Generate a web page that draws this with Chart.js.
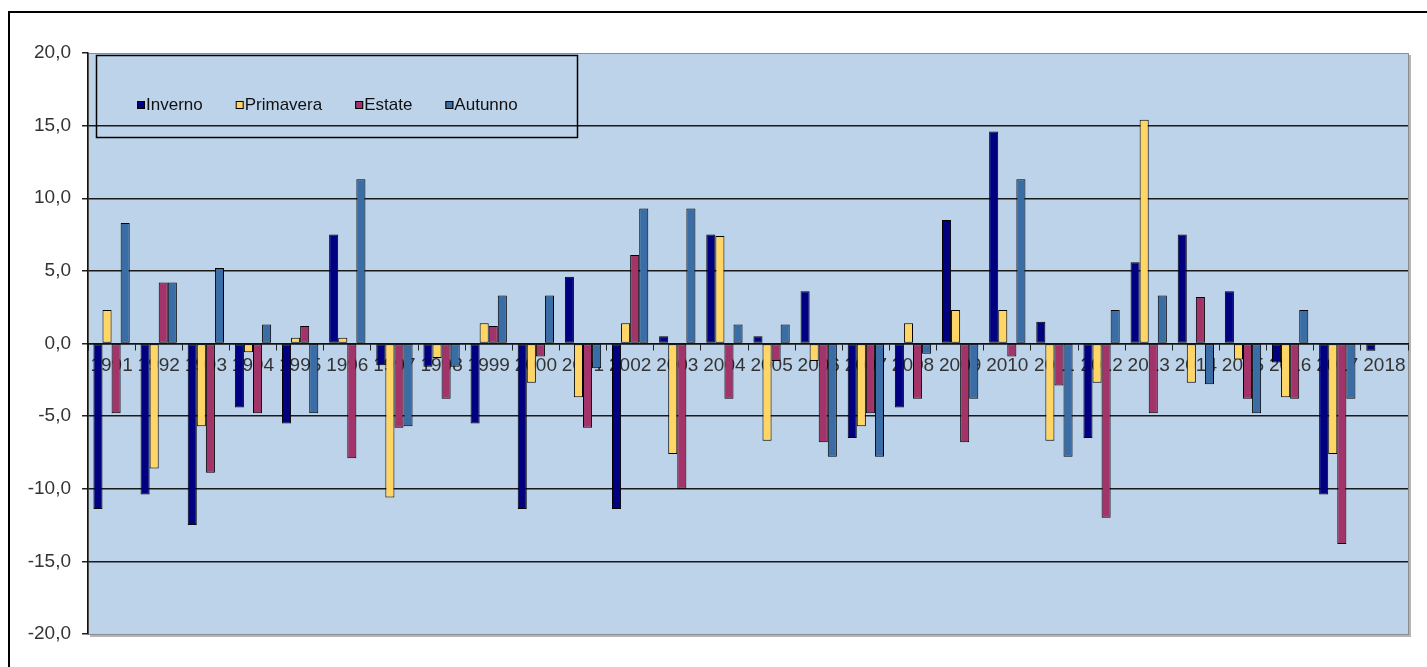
<!DOCTYPE html>
<html>
<head>
<meta charset="utf-8">
<script src="https://cdn.jsdelivr.net/npm/chart.js@4.4.1/dist/chart.umd.min.js"></script>
<style>
  html, body { margin: 0; padding: 0; background: #ffffff; }
  #wrap { position: relative; width: 1427px; height: 667px; }
</style>
</head>
<body>
<div id="wrap"><canvas id="c" width="1427" height="667"></canvas></div>
<script>
const years = ['1991','1992','1993','1994','1995','1996','1997','1998','1999','2000','2001','2002','2003','2004','2005','2006','2007','2008','2009','2010','2011','2012','2013','2014','2015','2016','2017','2018'];
const inverno   = [-11.4,-10.4,-12.5,-4.4,-5.5,7.5,-1.5,-1.6,-5.5,-11.4,4.6,-11.4,0.5,7.5,0.5,3.6,-6.5,-4.4,8.5,14.6,1.5,-6.5,5.6,7.5,3.6,-1.3,-10.4,-0.5];
const primavera = [2.3,-8.6,-5.7,-0.6,0.4,0.4,-10.6,-1.0,1.4,-2.7,-3.7,1.4,-7.6,7.4,-6.7,-1.2,-5.7,1.4,2.3,2.3,-6.7,-2.7,15.4,-2.7,-1.1,-3.7,-7.6,null];
const estate    = [-4.8,4.2,-8.9,-4.8,1.2,-7.9,-5.8,-3.8,1.2,-0.9,-5.8,6.1,-10.0,-3.8,-1.2,-6.8,-4.8,-3.8,-6.8,-0.9,-2.9,-12.0,-4.8,3.2,-3.8,-3.8,-13.8,null];
const autunno   = [8.3,4.2,5.2,1.3,-4.8,11.3,-5.7,-1.6,3.3,3.3,-1.7,9.3,9.3,1.3,1.3,-7.8,-7.8,-0.7,-3.8,11.3,-7.8,2.3,3.3,-2.8,-4.8,2.3,-3.8,null];
const seriesNames = ['Inverno','Primavera','Estate','Autunno'];
const seriesColors = ['#000080','#FFD566','#A3346A','#3A6DA5'];
const yTicks = [-20,-15,-10,-5,0,5,10,15,20];

const FONT = "'Liberation Sans', Arial, sans-serif";
const PLOT_BG = '#BDD3EA';

const bgPlugin = {
  id: 'bgPlugin',
  beforeDraw(chart) {
    const {ctx, chartArea: a} = chart;
    ctx.save();
    // outer frame
    ctx.strokeStyle = '#000';
    ctx.lineWidth = 2;
    ctx.beginPath();
    ctx.moveTo(9, 700);
    ctx.lineTo(9, 12);
    ctx.lineTo(1440, 12);
    ctx.stroke();
    // plot background
    ctx.fillStyle = PLOT_BG;
    ctx.fillRect(a.left, a.top, a.right - a.left, a.bottom - a.top);
    // shadow / border
    ctx.strokeStyle = '#8c8c8c';
    ctx.lineWidth = 1;
    ctx.strokeRect(a.left + 0.5, a.top + 0.5, a.right - a.left, a.bottom - a.top);
    ctx.strokeStyle = '#b4b4b4';
    ctx.lineWidth = 2;
    ctx.beginPath();
    ctx.moveTo(a.right + 2, a.top + 2);
    ctx.lineTo(a.right + 2, a.bottom + 2);
    ctx.lineTo(a.left + 2, a.bottom + 2);
    ctx.stroke();
    ctx.restore();
  }
};

const legendPlugin = {
  id: 'boxLegend',
  afterDraw(chart) {
    const {ctx, chartArea: a} = chart;
    ctx.save();
    const bx = a.left + 8, by = a.top + 2, bw = 481, bh = 82;
    ctx.strokeStyle = '#000';
    ctx.lineWidth = 1.5;
    ctx.strokeRect(bx + 0.5, by + 0.5, bw, bh);
    ctx.font = '17px ' + FONT;
    ctx.textBaseline = 'middle';
    ctx.textAlign = 'left';
    let x = a.left + 49;
    const cy = a.top + 52;
    chart.data.datasets.forEach(ds => {
      ctx.fillStyle = ds.backgroundColor;
      ctx.fillRect(x, cy - 4, 8, 8);
      ctx.strokeStyle = '#000';
      ctx.lineWidth = 1;
      ctx.strokeRect(x + 0.5, cy - 3.5, 7, 7);
      ctx.fillStyle = '#111';
      ctx.fillText(ds.label, x + 9, cy);
      x += 9 + ctx.measureText(ds.label).width + 33;
    });
    ctx.restore();
  }
};

const datasets = [inverno, primavera, estate, autunno].map((d, i) => ({
  label: seriesNames[i],
  data: d,
  backgroundColor: seriesColors[i],
  borderColor: '#000',
  borderWidth: 1,
  borderSkipped: false,
  categoryPercentage: 0.77,
  barPercentage: 1.0
}));

new Chart(document.getElementById('c'), {
  type: 'bar',
  data: { labels: years, datasets },
  options: {
    responsive: false,
    animation: false,
    layout: { padding: { left: 0, top: 53, right: 19, bottom: 33 } },
    plugins: { legend: { display: false }, tooltip: { enabled: false } },
    scales: {
      x: {
        position: { y: 0 },
        offset: true,
        afterFit(scale) { scale.height = 0; },
        grid: {
          drawOnChartArea: false,
          drawTicks: true,
          tickLength: 6,
          tickColor: '#222',
          tickWidth: 1,
          offset: true
        },
        border: { display: true, color: '#111', width: 1.5 },
        ticks: {
          autoSkip: false,
          maxRotation: 0,
          minRotation: 0,
          padding: 5,
          color: '#333',
          font: { family: FONT, size: 19 }
        }
      },
      y: {
        min: -20,
        max: 20,
        afterFit(scale) { scale.width = 88; },
        afterBuildTicks(scale) { scale.ticks = yTicks.map(v => ({ value: v })); },
        grid: {
          drawTicks: true,
          tickLength: 6,
          tickColor: '#222',
          lineWidth: 1.5,
          color: ctx => (Math.abs(ctx.tick && ctx.tick.value) === 20 ? 'rgba(0,0,0,0)' : '#1a1a1a')
        },
        border: { display: true, color: '#111', width: 1.5 },
        ticks: {
          padding: 11,
          color: '#333',
          font: { family: FONT, size: 19 },
          callback: v => v.toFixed(1).replace('.', ',')
        }
      }
    }
  },
  plugins: [bgPlugin, legendPlugin]
});
</script>
</body>
</html>
